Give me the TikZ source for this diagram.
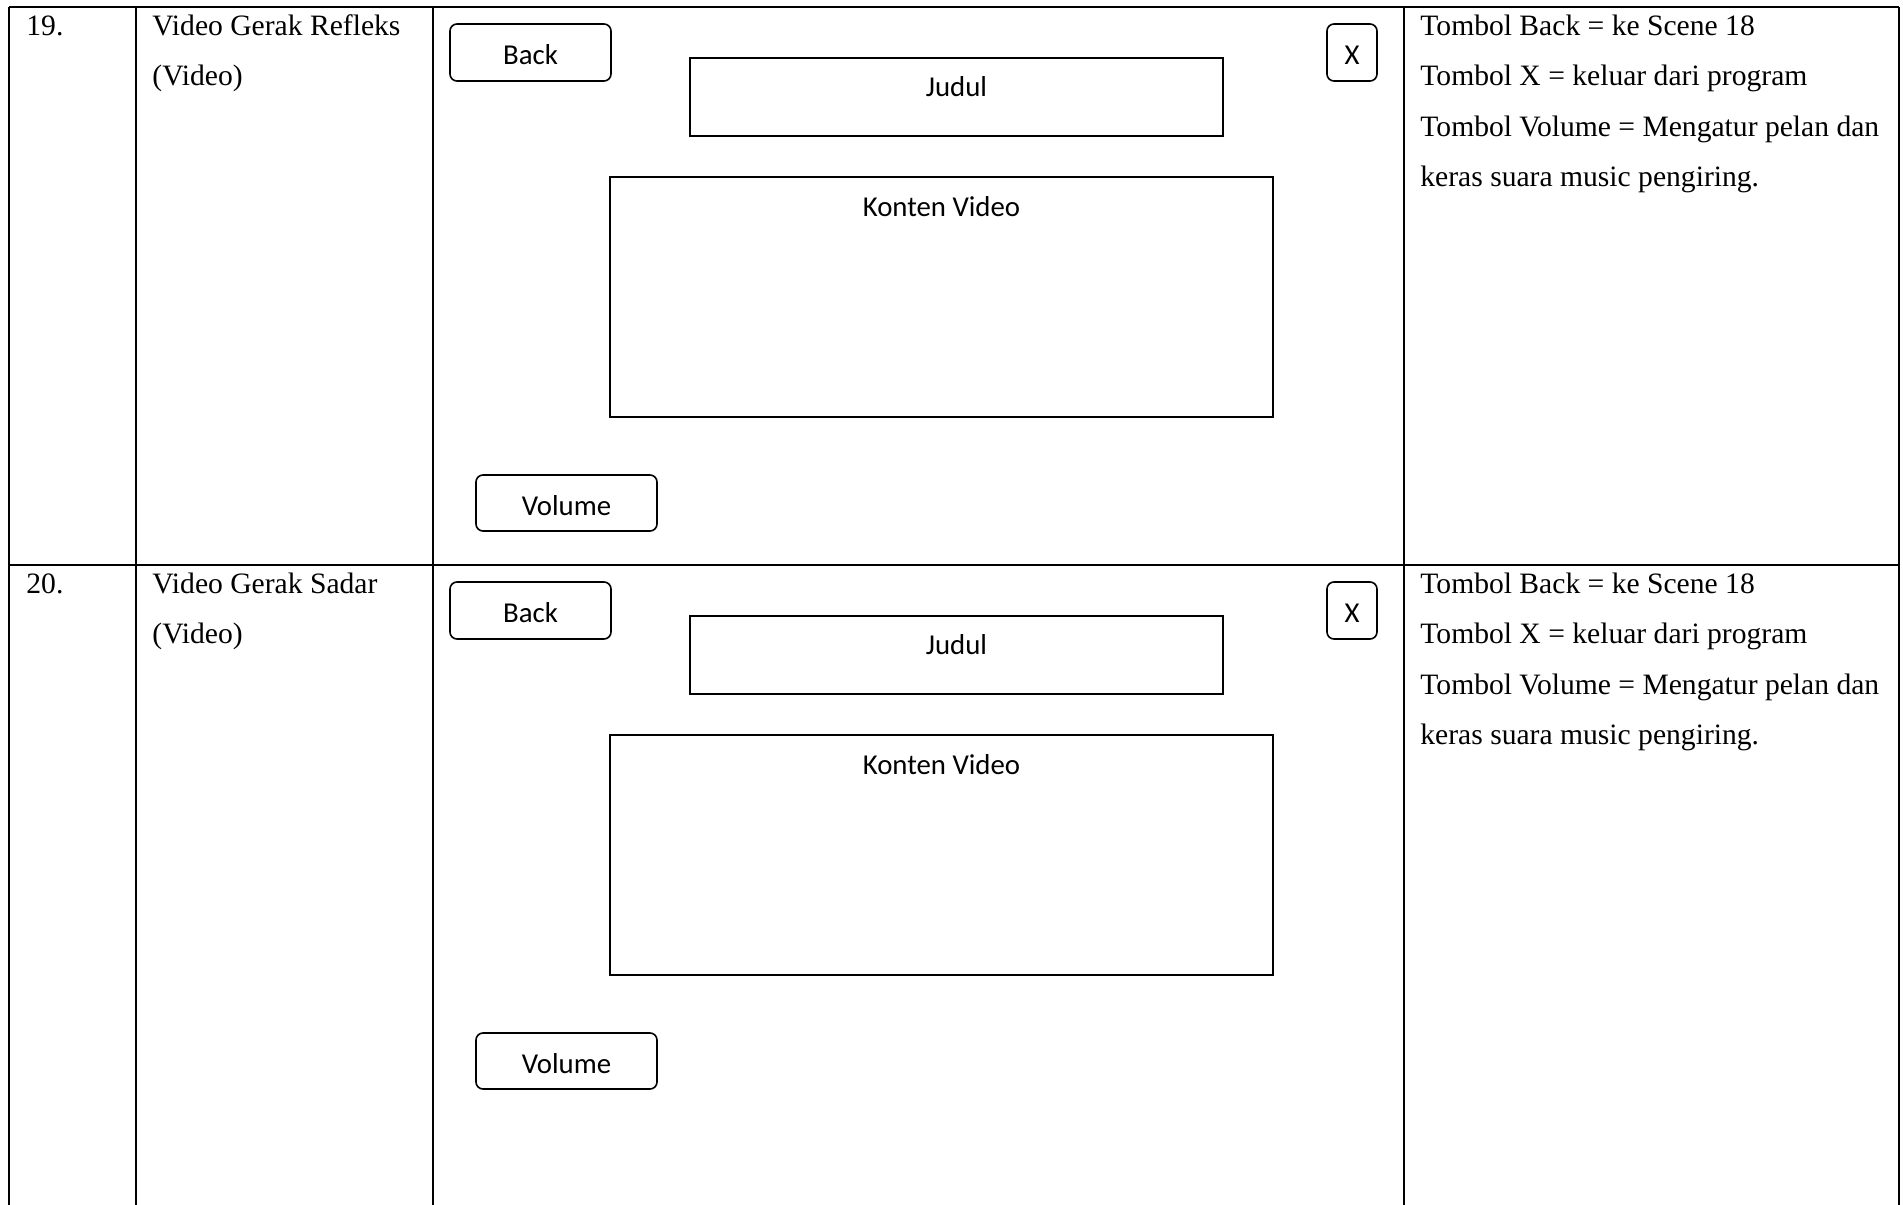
\documentclass[tikz,border=0pt]{standalone}
\usepackage{fontspec}
\setmainfont{Liberation Serif}
\newfontfamily\calibri{Carlito}

\tikzset{
  tombol/.style={draw, rounded corners=3.5pt, line width=0.8pt, inner sep=0pt,
    font=\calibri\fontsize{14.4}{17}\selectfont, text height=12pt, text depth=0pt},
  kotak/.style={draw, line width=1pt, inner sep=0pt, anchor=north,
    font=\calibri\fontsize{14.4}{17}\selectfont},
  teks/.style={anchor=base west, inner sep=0pt, font=\fontsize{14.8}{25.2}\selectfont},
  garis/.style={line width=1.25pt}
}

\begin{document}
\begin{tikzpicture}[x=0.5pt,y=-0.5pt]
        \useasboundingbox (0,0) rectangle (1903,1205);
        % tabel
        \draw[garis] (9,7) -- (1899,7);
        \draw[garis] (9,565) -- (1899,565);
        \foreach \gx in {9,136,433,1404,1899}
            \draw[garis] (\gx,7) -- (\gx,1205);

        % baris scene
        \foreach \no/\nama/\dy in {19/Refleks/0,20/Sadar/558}{
            \node[teks] (no-\no) at (26,35+\dy) {\no.};
            \node[teks] (nama-\no) at (152,35+\dy) {Video Gerak \nama};
            \node[teks] (jenis-\no) at (152,85+\dy) {(Video)};
            % tampilan layar
            \node[tombol, minimum width=80.5pt, minimum height=28.5pt] (back-\no) at (530.5,52.5+\dy) {Back};
            \node[tombol, minimum width=25pt, minimum height=28.5pt] (x-\no) at (1352,52.5+\dy) {X};
            \node[kotak, minimum width=266.5pt, text height=19pt, text depth=20pt] (judul-\no) at (956.5,57+\dy) {Judul};
            \node[kotak, minimum width=331.5pt, text height=19.5pt, text depth=100.5pt] (konten-\no) at (941.5,176+\dy) {Konten Video};
            \node[tombol, minimum width=90.5pt, minimum height=28pt] (vol-\no) at (566.5,503+\dy) {Volume};
            % keterangan
            \node[teks] (ket1-\no) at (1420,35+\dy) {Tombol Back = ke Scene 18};
            \node[teks] (ket2-\no) at (1420,85+\dy) {Tombol X = keluar dari program};
            \node[teks] (ket3-\no) at (1420,136+\dy) {Tombol Volume = Mengatur pelan dan};
            \node[teks] (ket4-\no) at (1420,186+\dy) {keras suara music pengiring.};
        }
\end{tikzpicture}
\end{document}
